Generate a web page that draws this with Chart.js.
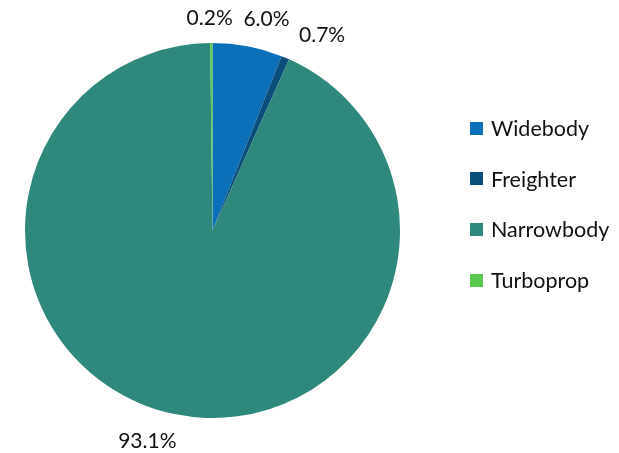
<!DOCTYPE html>
<html>
<head>
<meta charset="utf-8">
<script src="https://cdn.jsdelivr.net/npm/chart.js@4.4.1/dist/chart.umd.min.js"></script>
<style>
  html, body { margin: 0; padding: 0; background: #fff; }
  #wrap { position: relative; width: 619px; height: 453px; }
  #legend { position: absolute; left: 470px; top: 115px; font-family: Lato, "Open Sans", sans-serif; font-size: 21.5px; color: #111; }
  .item { display: flex; align-items: center; height: 26px; margin-bottom: 24.7px; }
  .box { width: 13px; height: 13px; margin-right: 8px; }
</style>
</head>
<body>
<div id="wrap">
  <canvas id="c" width="619" height="453"></canvas>
  <div id="legend"></div>
</div>
<script>
// Fleet mix by aircraft type (share of units, %)
const categories = ["Widebody", "Freighter", "Narrowbody", "Turboprop"];
const shares = [6.0, 0.7, 93.1, 0.2];
const colors = ["#0B70B9", "#0B4E7B", "#2E887C", "#5BC84F"];

// Label placement: distance beyond the rim and a small angular shift (degrees)
const labelGap = [31, 36, 33, 25];
const labelShift = [3.5, 6.5, 5.5, -0.4];

const outsideLabels = {
  id: "outsideLabels",
  afterDatasetsDraw(chart) {
    const ctx = chart.ctx;
    const meta = chart.getDatasetMeta(0);
    ctx.save();
    ctx.font = "21px Lato, 'Open Sans', sans-serif";
    ctx.fillStyle = "#111";
    ctx.textAlign = "center";
    ctx.textBaseline = "middle";
    meta.data.forEach((arc, i) => {
      const p = arc.getProps(["x", "y", "startAngle", "endAngle", "outerRadius"], true);
      const mid = (p.startAngle + p.endAngle) / 2 + labelShift[i] * Math.PI / 180;
      const r = p.outerRadius + labelGap[i];
      ctx.fillText(shares[i].toFixed(1) + "%", p.x + Math.cos(mid) * r, p.y + Math.sin(mid) * r);
    });
    ctx.restore();
  }
};

new Chart(document.getElementById("c"), {
  type: "pie",
  data: {
    labels: categories,
    datasets: [{ data: shares, backgroundColor: colors, borderWidth: 0 }]
  },
  options: {
    responsive: false,
    animation: false,
    layout: { padding: { left: 25, right: 219, top: 43, bottom: 35 } },
    plugins: { legend: { display: false }, tooltip: { enabled: false } }
  },
  plugins: [outsideLabels]
});

const legend = document.getElementById("legend");
categories.forEach((name, i) => {
  const item = document.createElement("div");
  item.className = "item";
  const box = document.createElement("span");
  box.className = "box";
  box.style.background = colors[i];
  const txt = document.createElement("span");
  txt.textContent = name;
  item.appendChild(box);
  item.appendChild(txt);
  legend.appendChild(item);
});
</script>
</body>
</html>
